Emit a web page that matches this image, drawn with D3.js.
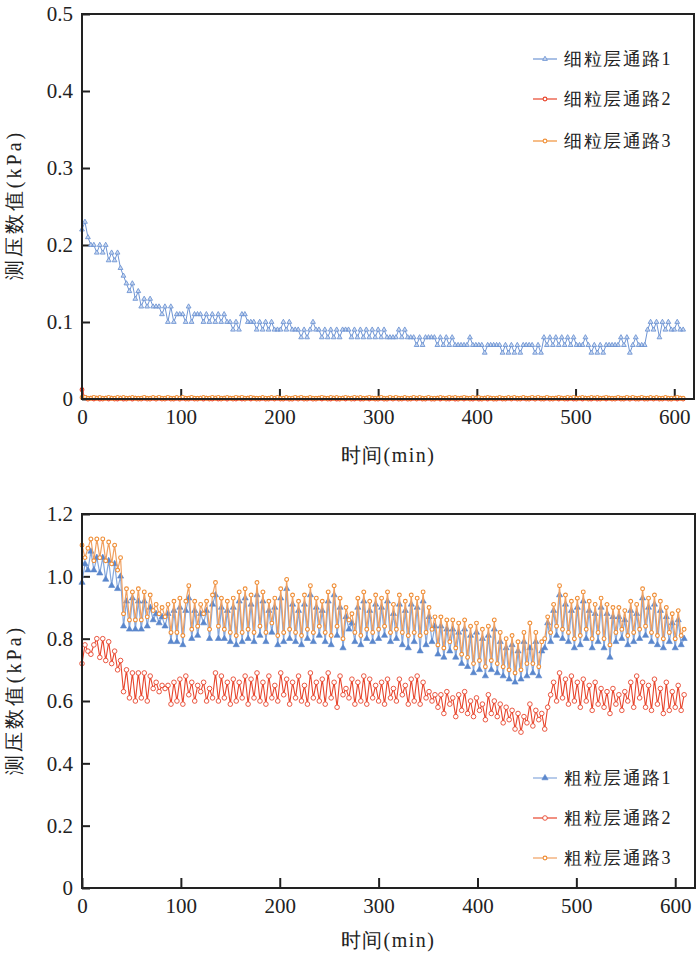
<html><head><meta charset="UTF-8"></head>
<body style="margin:0">
<script src="https://cdnjs.cloudflare.com/ajax/libs/d3/7.8.5/d3.min.js"></script>
<script>
// sampling: one reading every 3 min, 0..609 min
const sampleStep = 3;

// top panel, fine layer (hundredths of kPa)
const fine1 = [
22,23,21,20,20,19,20,19,20,18, 19,18,19,17,16,15,14,15,13,14,
12,13,12,13,12,12,12,11,12,10, 12,10,11,11,11,10,12,10,11,11,
11,10,11,10,11,10,11,10,11,10, 10,9,10,9,11,11,10,10,10,9,
10,9,10,9,10,9,9,9,10,9, 10,9,9,9,8,9,8,9,10,9,
9,8,9,8,9,8,9,8,9,9, 9,8,9,8,9,8,9,8,9,8,
9,8,9,8,8,8,8,9,8,9, 8,8,8,7,8,7,8,8,8,8,
7,8,7,8,7,8,7,7,7,7, 7,8,7,7,7,7,6,7,7,7,
7,7,6,7,6,7,6,7,6,7, 7,7,7,6,7,6,8,7,8,7,
8,7,8,7,8,7,8,7,7,7, 8,7,6,7,6,7,6,7,7,7,
7,7,8,7,8,6,7,8,7,7, 7,9,10,9,10,8,10,9,10,9,
9,10,9,9];
// thousandths of kPa
const fine2 = [
12,2,0,1,0,1,0,0,1,0,1,0,0,1,0,0,1,0,1,0, 0,1,0,0,1,0,1,0,0,1,0,0,1,0,1,0,0,1,0,0,
1,0,1,0,0,1,0,0,1,0,1,0,0,1,0,0,1,0,1,0, 0,1,0,0,1,0,1,0,0,1,0,0,1,0,1,0,0,1,0,0,
1,0,1,0,0,1,0,0,1,0,1,0,0,1,0,0,1,0,1,0, 0,1,0,0,1,0,1,0,0,1,0,0,1,0,1,0,0,1,0,0,
1,0,1,0,0,1,0,0,1,0,1,0,0,1,0,0,1,0,1,0, 0,1,0,0,1,0,1,0,0,1,0,0,1,0,1,0,0,1,0,0,
1,0,1,0,0,1,0,0,1,0,1,0,0,1,0,0,1,0,1,0, 0,1,0,0,1,0,1,0,0,1,0,0,1,0,1,0,0,1,0,0,
1,0,1,0];
const fine3 = [
2,2,1,1,2,1,2,1,1,2,1,1,2,1,2,1,1,2,1,1, 1,2,1,1,2,1,2,1,1,2,1,1,2,1,2,1,1,2,1,1,
1,2,1,1,2,1,2,1,1,2,1,1,2,1,2,1,1,2,1,1, 1,2,1,1,2,1,2,1,1,2,1,1,2,1,2,1,1,2,1,1,
1,2,1,1,2,1,2,1,1,2,1,1,2,1,2,1,1,2,1,1, 1,2,1,1,2,1,2,1,1,2,1,1,2,1,2,1,1,2,1,1,
1,2,1,1,2,1,2,1,1,2,1,1,2,1,2,1,1,2,1,1, 1,2,1,1,2,1,2,1,1,2,1,1,2,1,2,1,1,2,1,1,
1,2,1,1,2,1,2,1,1,2,1,1,2,1,2,1,1,2,1,1, 1,2,1,1,2,1,2,1,1,2,1,1,2,1,2,1,1,2,1,1,
1,2,1,1];

// bottom panel, coarse layer (hundredths of kPa)
const coarse1 = [
98,104,102,108,102,106,101,106,99,105, 97,104,96,100,84,92,83,93,83,92,
83,92,84,90,86,88,85,87,84,88, 79,89,79,90,78,89,93,80,89,81,
88,85,89,80,91,94,80,90,80,89, 79,90,78,92,79,93,80,91,79,94,
81,92,79,89,82,90,78,93,79,96, 80,91,79,89,78,91,80,94,79,90,
81,89,79,92,78,94,81,90,77,87, 83,85,79,90,78,92,80,89,79,91,
80,90,81,92,79,88,80,91,78,89, 77,91,79,90,76,92,78,87,79,84,
75,84,74,83,76,83,74,82,72,83, 71,81,69,82,70,80,68,81,70,83,
69,79,68,77,67,78,66,76,67,79, 68,77,69,79,68,76,77,85,79,89,
81,94,80,91,79,89,77,90,78,92, 80,89,77,88,79,90,77,88,74,87,
79,87,80,86,78,89,79,88,80,93, 81,90,79,91,78,89,77,87,79,85,
77,86,78,80];
const coarse2 = [
72,78,76,75,78,80,74,80,73,79, 72,76,70,73,63,70,61,69,60,69,
61,69,60,68,64,66,63,65,64,65, 59,66,60,67,59,68,62,66,60,65,
63,66,60,64,61,69,60,68,61,66, 59,67,60,66,61,68,59,67,61,69,
60,66,59,68,61,65,60,69,62,67, 59,66,61,68,60,65,59,69,61,66,
60,67,59,69,61,66,58,68,62,64, 61,67,59,66,60,68,59,67,61,65,
60,66,59,67,61,64,60,67,62,65, 59,67,60,68,59,66,61,63,60,62,
58,62,56,63,59,61,55,62,57,63, 56,60,55,61,57,59,54,62,56,60,
55,59,53,58,54,57,51,56,50,55, 53,59,52,57,54,56,51,58,62,66,
60,69,61,67,59,68,60,66,58,67, 60,65,57,66,59,64,58,63,56,64,
59,62,57,63,60,66,58,68,61,66, 58,65,57,67,59,64,56,66,57,63,
58,65,57,62];
const coarse3 = [
110,106,109,112,105,112,106,112,105,111, 104,110,102,106,88,96,86,95,86,96,
86,95,87,94,89,91,88,90,87,91, 82,92,82,93,81,92,97,83,92,84,
91,88,92,83,94,98,84,93,83,92, 82,93,81,95,82,96,83,94,82,98,
84,95,82,92,85,93,81,96,82,99, 83,94,82,92,81,94,83,97,82,93,
84,92,82,95,81,97,84,93,80,90, 86,88,82,93,81,95,83,92,82,94,
83,93,84,95,82,91,83,94,82,92, 81,94,82,93,81,95,82,90,83,87,
78,87,77,86,79,86,77,85,75,86, 74,84,72,85,73,83,71,84,73,86,
72,82,71,80,70,81,69,79,70,82, 72,85,72,82,71,79,80,87,82,91,
84,97,83,94,82,92,80,93,81,95, 83,92,80,91,82,93,80,91,78,90,
82,90,83,89,81,92,82,91,83,96, 84,93,82,94,81,92,80,90,82,88,
80,89,81,83];

const xTicks = [0, 100, 200, 300, 400, 500, 600];
const topYTicks = [0, 0.1, 0.2, 0.3, 0.4, 0.5];
const botYTicks = [0, 0.2, 0.4, 0.6, 0.8, 1.0, 1.2];
const topNames = ['细粒层通路1', '细粒层通路2', '细粒层通路3'];
const botNames = ['粗粒层通路1', '粗粒层通路2', '粗粒层通路3'];

const font = 'Liberation Serif';
const ink = '#222';
const svg = d3.select('body').append('svg').attr('width', 700).attr('height', 957)
  .attr('font-family', font)
  .style('display', 'block').style('background', '#fff');

function toPoints(vals, div) {
  return vals.map((v, i) => [i * sampleStep, v / div]);
}

function label(sel, size, spacing) {
  sel.style('font-family', font).style('font-size', size + 'px').attr('fill', ink);
  if (spacing) sel.style('letter-spacing', spacing + 'px');
  return sel;
}

// all markers of one series go into a single path
const tri = (cx, cy, a) => {
  const h = a / Math.sqrt(3);
  return `M${cx},${cy - h}L${cx - a / 2},${cy + h / 2}L${cx + a / 2},${cy + h / 2}Z`;
};
const circ = (cx, cy, r) =>
  `M${cx + r},${cy}A${r},${r},0,1,1,${cx - r},${cy}A${r},${r},0,1,1,${cx + r},${cy}Z`;

function markers(kind, color, xy) {
  const d = xy.map(([px, py]) =>
    kind === 'tri' ? tri(px, py, 4.8)
    : kind === 'triFill' ? tri(px, py, 6.2)
    : circ(px, py, kind === 'dot' ? 1.9 : 2.3)).join('');
  svg.append('path').attr('d', d)
    .attr('fill', kind === 'tri' ? '#c9d8f0' : kind === 'triFill' ? color : '#fff')
    .attr('stroke', color)
    .attr('stroke-width', kind === 'triFill' ? 0.6 : kind === 'dot' ? 1.1 : 0.9);
}

function drawPanel(p) {
  const x = d3.scaleLinear().domain([0, 620]).range([p.left, p.right]);
  const y = d3.scaleLinear().domain([0, p.yMax]).range([p.bottom, p.top]);
  const line = d3.line().x(d => x(d[0])).y(d => y(d[1]));

  // axes first, like the page whose serif text rendered
  const fmt = d => d === 0 ? '0' : d3.format('.1f')(d);
  const ay = svg.append('g').attr('transform', `translate(${p.left},0)`)
    .call(d3.axisLeft(y).tickValues(p.yTicks).tickSize(-8).tickPadding(9).tickFormat(fmt));
  const ax = svg.append('g').attr('transform', `translate(0,${p.bottom})`)
    .call(d3.axisBottom(x).tickValues(xTicks).tickSize(-10).tickPadding(10).tickFormat(d3.format('d')));
  [ax, ay].forEach(a => {
    a.attr('font-family', font).attr('font-size', 21);
    a.select('.domain').remove();
    a.selectAll('line').attr('stroke', ink).attr('stroke-width', 2);
    label(a.selectAll('text'), 21, 0);
  });

  p.series.forEach(s => {
    svg.append('path').attr('d', line(s.pts)).attr('fill', 'none')
      .attr('stroke', s.lineColor || s.color).attr('stroke-width', s.lw || 1);
    markers(s.kind, s.color, s.pts.map(d => [x(d[0]), y(d[1])]));
  });

  // frame
  svg.append('rect').attr('x', p.left).attr('y', p.top)
    .attr('width', p.right - p.left).attr('height', p.bottom - p.top)
    .attr('fill', 'none').attr('stroke', ink).attr('stroke-width', 2);

  label(svg.append('text'), 20, 1.5).attr('x', 388).attr('y', p.xLabelY)
    .attr('text-anchor', 'middle').text('时间(min)');
  label(svg.append('text'), 20, 3).attr('transform', `translate(21,${p.yLabelY}) rotate(-90)`)
    .attr('text-anchor', 'middle').text('测压数值(kPa)');

  p.series.forEach((s, i) => {
    const ly = p.legendY[i];
    svg.append('line').attr('x1', 533).attr('x2', 557).attr('y1', ly).attr('y2', ly)
      .attr('stroke', s.lineColor || s.color).attr('stroke-width', 1.2);
    markers(s.kind, s.color, [[545, ly]]);
    label(svg.append('text'), 18, 1.5).attr('x', 564).attr('y', ly + 6).text(p.names[i]);
  });
}

drawPanel({
  left: 82, right: 694, top: 14, bottom: 399, yMax: 0.5, yTicks: topYTicks,
  xLabelY: 462, yLabelY: 205, legendY: [59, 99, 141], names: topNames,
  series: [
    { pts: toPoints(fine1, 100), color: '#6f95d4', kind: 'tri', lw: 1 },
    { pts: toPoints(fine2, 1000), color: '#e8452c', kind: 'dot', lw: 1 },
    { pts: toPoints(fine3, 1000), color: '#f0913a', kind: 'dot', lw: 1.5 }
  ]
});

drawPanel({
  left: 82, right: 695, top: 514, bottom: 888, yMax: 1.2, yTicks: botYTicks,
  xLabelY: 947, yLabelY: 700, legendY: [778, 818, 858], names: botNames,
  series: [
    { pts: toPoints(coarse1, 100), color: '#5a87cc', lineColor: '#86a8dc', kind: 'triFill', lw: 1.2 },
    { pts: toPoints(coarse2, 100), color: '#e8452c', kind: 'circ', lw: 1.1 },
    { pts: toPoints(coarse3, 100), color: '#ef8d35', lineColor: '#f0a060', kind: 'dot', lw: 1.2 }
  ]
});
</script>
</body>
</html>
